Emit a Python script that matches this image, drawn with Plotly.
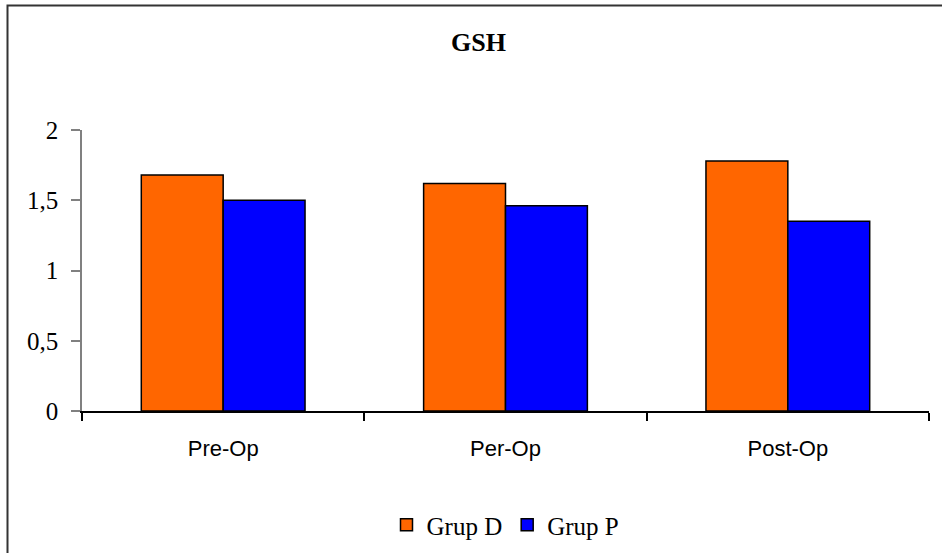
import plotly.graph_objects as go

# GSH levels per operative phase for the two groups
categories = ["Pre-Op", "Per-Op", "Post-Op"]
grup_d = [1.68, 1.62, 1.78]
grup_p = [1.50, 1.46, 1.35]
y_tick_vals = [0, 0.5, 1, 1.5, 2]
y_tick_text = ["0", "0,5", "1", "1,5", "2"]

serif = "Liberation Serif, Times New Roman, serif"
sans = "Liberation Sans, Arial, sans-serif"

fig = go.Figure()
fig.add_trace(go.Bar(
    x=categories, y=grup_d, name="Grup D",
    marker=dict(color="#FF6600", line=dict(color="#000000", width=1.5)),
))
fig.add_trace(go.Bar(
    x=categories, y=grup_p, name="Grup P",
    marker=dict(color="#0000FF", line=dict(color="#000000", width=1.5)),
))

# plot area in pixels: x 82..929, y 130..411
L, R, T, B = 82, 942 - 929, 130, 553 - 411
W, H = 942 - L - R, 553 - T - B

fig.update_layout(
    width=942, height=553,
    margin=dict(l=L, r=R, t=T, b=B, autoexpand=False),
    paper_bgcolor="white", plot_bgcolor="white",
    barmode="group", bargap=0.42, bargroupgap=0,
    title=dict(
        text="<b>GSH</b>", x=478.5 / 942, xref="container", xanchor="center",
        y=1 - 42 / 553, yref="container", yanchor="middle",
        font=dict(family=serif, size=26, color="#000000"),
    ),
    legend=dict(
        orientation="h", x=0.5, xanchor="center",
        y=(411 - 525) / H, yanchor="middle",
        font=dict(family=serif, size=25, color="#000000"),
        itemwidth=30, traceorder="normal",
    ),
    showlegend=True,
    xaxis=dict(
        type="category", automargin=False,
        showline=True, linecolor="#000000", linewidth=1.5,
        ticks="outside", tickson="boundaries", ticklen=8,
        tickcolor="#000000", tickwidth=1.5,
        tickfont=dict(family=sans, size=22, color="#000000"),
        ticklabelstandoff=17,
        showgrid=False, zeroline=False,
    ),
    yaxis=dict(
        range=[0, 2], automargin=False,
        tickvals=y_tick_vals, ticktext=y_tick_text,
        showline=True, linecolor="#808080", linewidth=1.5,
        ticks="outside", ticklen=9, tickcolor="#808080", tickwidth=1.5,
        tickfont=dict(family=serif, size=25, color="#000000"),
        ticklabelstandoff=8,
        showgrid=False, zeroline=False,
    ),
)

# outer frame of the chart area (runs off the right and bottom edges)
fig.add_shape(
    type="rect", xref="paper", yref="paper",
    x0=(7.5 - L) / W, x1=(960 - L) / W,
    y0=(411 - 580) / H, y1=1 + (T - 5.5) / H,
    line=dict(color="#333333", width=2), fillcolor="rgba(0,0,0,0)",
    layer="above",
)

fig.write_html("out.html")
